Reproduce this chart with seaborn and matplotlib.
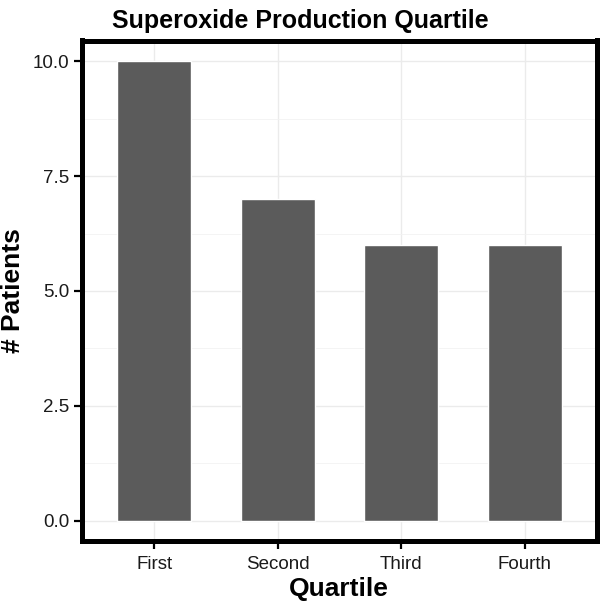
import matplotlib
matplotlib.use("Agg")
import matplotlib.pyplot as plt
import seaborn as sns
import pandas as pd
from matplotlib.ticker import MultipleLocator, FormatStrFormatter

quartiles = ["First", "Second", "Third", "Fourth"]
patients = [10, 7, 6, 6]

df = pd.DataFrame({"Quartile": quartiles, "Patients": patients})

sns.set_style("white")
plt.rcParams["font.family"] = ["Liberation Sans", "DejaVu Sans"]

fig = plt.figure(figsize=(6, 6.02), dpi=100)
# panel border centres measured in pixels
left, right, top, bottom = 81.5, 596.5, 40.5, 541
ax = fig.add_axes([left / 600, 1 - bottom / 602, (right - left) / 600, (bottom - top) / 602])

sns.barplot(data=df, x="Quartile", y="Patients", color="#5b5b5b",
            width=0.6, saturation=1, ax=ax, zorder=3)

ax.set_xlim(-0.59, 3.58)
ax.set_ylim(-0.44, 10.45)
ax.yaxis.set_major_locator(MultipleLocator(2.5))
ax.yaxis.set_minor_locator(MultipleLocator(1.25))
ax.yaxis.set_major_formatter(FormatStrFormatter("%.1f"))

ax.grid(True, which="major", color="#ebebeb", linewidth=1, zorder=0)
ax.grid(True, which="minor", axis="y", color="#f2f2f2", linewidth=0.6, zorder=0)
ax.set_axisbelow(True)

for s in ax.spines.values():
    s.set_linewidth(3.6)
    s.set_color("black")

ax.tick_params(axis="both", which="major", direction="out", length=6, width=1.6,
               color="black", labelsize=13.5, labelcolor="#1a1a1a", pad=3,
               bottom=True, left=True)
ax.tick_params(axis="x", which="major", pad=5)
ax.tick_params(axis="y", which="minor", length=0)

ax.set_xlabel("Quartile", fontsize=19, fontweight="bold", labelpad=3, color="black")
ax.set_ylabel("# Patients", fontsize=19, fontweight="bold", labelpad=5, color="black")
ax.set_title("Superoxide Production Quartile", fontsize=18, fontweight="bold",
             pad=9, color="black", x=(300 - left) / (right - left))

fig.savefig("out.png", dpi=100)
